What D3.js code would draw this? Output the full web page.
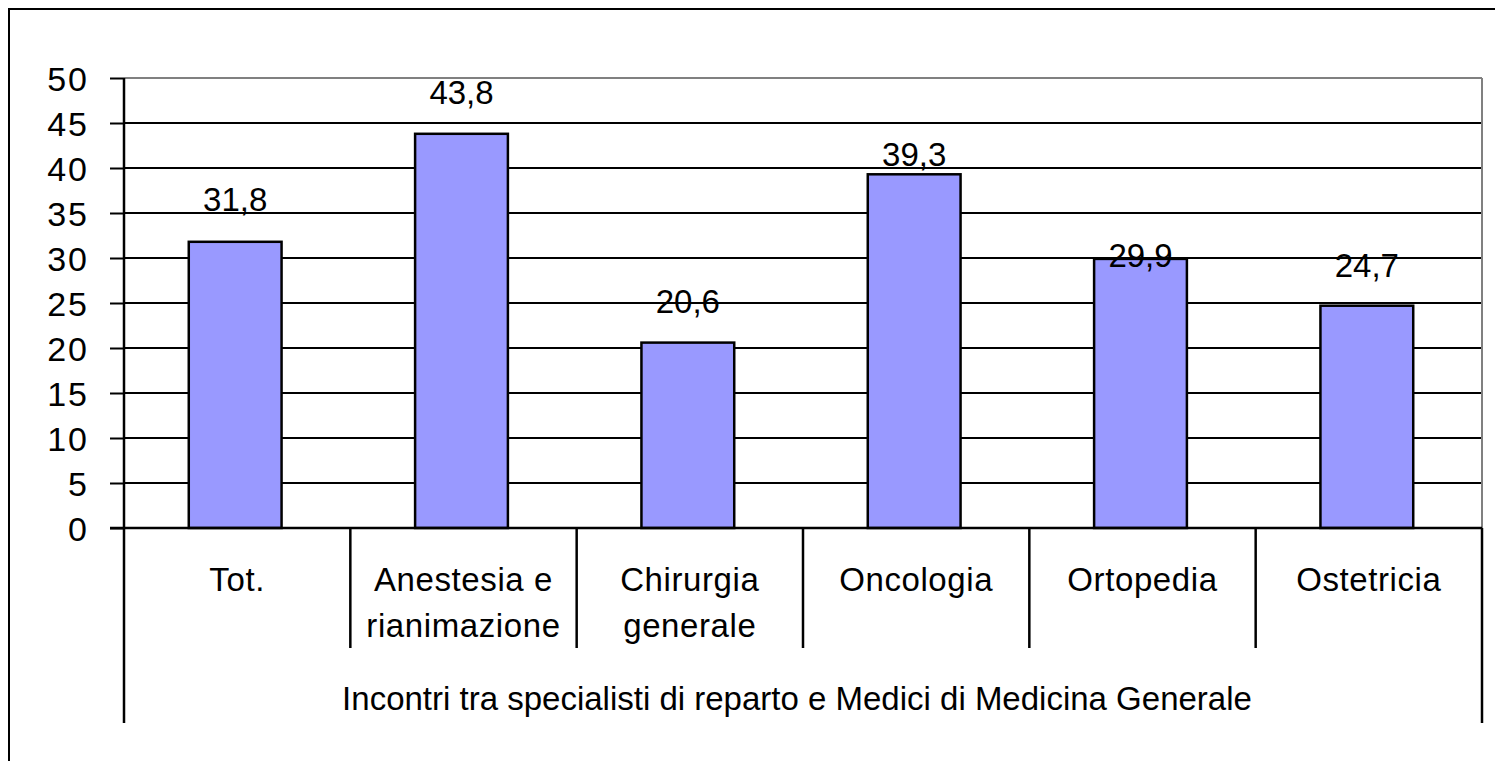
<!DOCTYPE html>
<html>
<head>
<meta charset="utf-8">
<script src="https://cdn.jsdelivr.net/npm/d3@7"></script>
<style>
  body { margin: 0; background: #fff; }
  svg text { font-family: "Liberation Sans", Arial, sans-serif; font-size: 33px; fill: #000; }
</style>
</head>
<body>
<script>
// data
var categories = ["Tot.", "Anestesia e rianimazione", "Chirurgia generale", "Oncologia", "Ortopedia", "Ostetricia"];
var catLines = [["Tot."], ["Anestesia e", "rianimazione"], ["Chirurgia", "generale"], ["Oncologia"], ["Ortopedia"], ["Ostetricia"]];
var values = [31.8, 43.8, 20.6, 39.3, 29.9, 24.7];
var yTicks = [0, 5, 10, 15, 20, 25, 30, 35, 40, 45, 50];
var groupLabel = "Incontri tra specialisti di reparto e Medici di Medicina Generale";

var W = 1495, H = 761;
var plotL = 124, plotR = 1482, plotT = 78, plotB = 528;
// px gap between bar top and its label baseline (labels were hand-placed in the original)
var labelGap = [31, 30, 30, 8, -8, 29];

var it = d3.formatLocale({decimal: ",", thousands: ".", grouping: [3], currency: ["€", ""]});
var fmt = it.format(".1f");

var svg = d3.select("body").append("svg")
    .attr("width", W)
    .attr("height", H);

// outer chart border (top + left only visible)
svg.append("path")
    .attr("d", "M9," + (H + 10) + "V9H" + (W + 10))
    .attr("fill", "none")
    .attr("stroke", "#000")
    .attr("stroke-width", 2);

var x = d3.scaleBand().domain(categories).range([plotL, plotR]).padding(0);
var y = d3.scaleLinear().domain([0, 50]).range([plotB, plotT]);

// gridlines
svg.selectAll("line.grid")
    .data(yTicks.filter(function(d) { return d > 0; }))
    .enter().append("line")
    .attr("class", "grid")
    .attr("x1", plotL).attr("x2", plotR)
    .attr("y1", function(d) { return y(d); })
    .attr("y2", function(d) { return y(d); })
    .attr("stroke", function(d) { return d == 50 ? "#808080" : "#000"; })
    .attr("stroke-width", 2);

// plot area right border (gray)
svg.append("line")
    .attr("x1", plotR).attr("x2", plotR)
    .attr("y1", y(50)).attr("y2", y(0))
    .attr("stroke", "#808080").attr("stroke-width", 2);

// bars
var bw = x.bandwidth() * 0.41;
svg.selectAll("rect.bar")
    .data(values)
    .enter().append("rect")
    .attr("class", "bar")
    .attr("x", function(d, i) { return x(categories[i]) + x.bandwidth() / 2 - bw / 2 - 2; })
    .attr("y", function(d) { return y(d); })
    .attr("width", bw)
    .attr("height", function(d) { return y(0) - y(d); })
    .attr("fill", "#9999FF")
    .attr("stroke", "#000")
    .attr("stroke-width", 2.5);

// value labels
svg.selectAll("text.val")
    .data(values)
    .enter().append("text")
    .attr("class", "val")
    .attr("text-anchor", "middle")
    .attr("x", function(d, i) { return x(categories[i]) + x.bandwidth() / 2 - 2; })
    .attr("y", function(d, i) { return y(d) - labelGap[i]; })
    .text(function(d) { return fmt(d); });

// y axis
var yAxis = d3.axisLeft(y)
    .tickValues(yTicks)
    .tickSize(14)
    .tickPadding(21)
    .tickFormat(d3.format("d"));
var ya = svg.append("g")
    .attr("transform", "translate(" + plotL + ",0)")
    .call(yAxis);
ya.select(".domain").remove();
ya.selectAll(".tick line").attr("stroke", "#000").attr("stroke-width", 2);
ya.selectAll(".tick text")
    .style("font-size", "34px")
    .style("letter-spacing", "2px")
    .attr("dy", "0.36em")
    .attr("fill", "#000");

// left axis line, extended into the category area
svg.append("line")
    .attr("x1", plotL).attr("x2", plotL)
    .attr("y1", plotT).attr("y2", 723)
    .attr("stroke", "#000").attr("stroke-width", 2.5);

// right outer category line
svg.append("line")
    .attr("x1", plotR).attr("x2", plotR)
    .attr("y1", plotB).attr("y2", 723)
    .attr("stroke", "#000").attr("stroke-width", 2.5);

// zero line
svg.append("line")
    .attr("x1", plotL - 14).attr("x2", plotR)
    .attr("y1", y(0)).attr("y2", y(0))
    .attr("stroke", "#000").attr("stroke-width", 2.5);

// category separators
svg.selectAll("line.sep")
    .data(categories.slice(1))
    .enter().append("line")
    .attr("class", "sep")
    .attr("x1", function(d) { return x(d); })
    .attr("x2", function(d) { return x(d); })
    .attr("y1", plotB).attr("y2", 648)
    .attr("stroke", "#000").attr("stroke-width", 2.5);

// category labels
var cl = svg.selectAll("text.cat")
    .data(catLines)
    .enter().append("text")
    .attr("class", "cat")
    .attr("text-anchor", "middle")
    .style("letter-spacing", "0.6px");
cl.selectAll("tspan")
    .data(function(d, i) { return d.map(function(s) { return {s: s, i: i}; }); })
    .enter().append("tspan")
    .attr("x", function(d) { return x(categories[d.i]) + x.bandwidth() / 2; })
    .attr("y", function(d, j) { return 591 + j * 46; })
    .text(function(d) { return d.s; });

// group label
svg.append("text")
    .attr("text-anchor", "middle")
    .attr("x", (plotL + plotR) / 2 - 6)
    .attr("y", 710)
    .text(groupLabel);
</script>
</body>
</html>
